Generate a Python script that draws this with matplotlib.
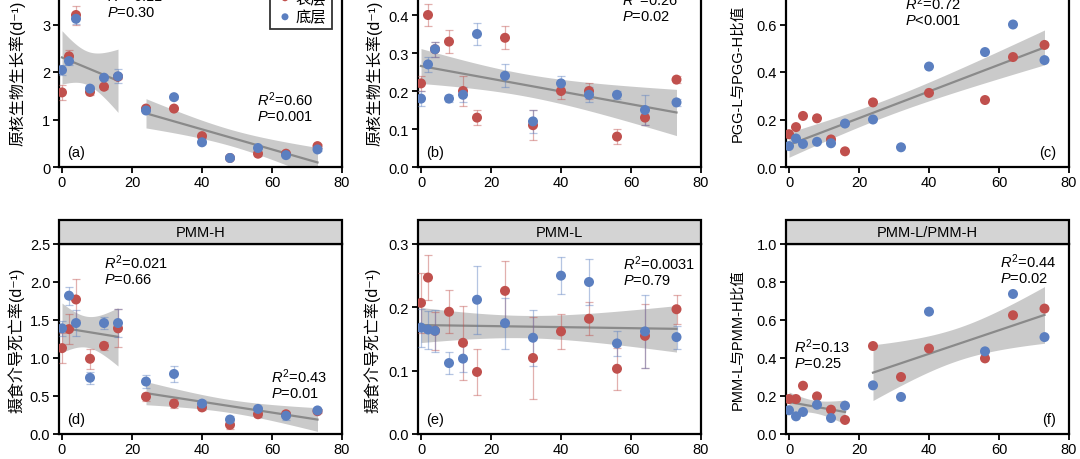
import matplotlib
matplotlib.use("Agg")
import matplotlib.pyplot as plt
import numpy as np
from matplotlib.patches import Rectangle

plt.rcParams['font.family'] = ['Liberation Sans', 'Noto Sans CJK SC', 'DejaVu Sans']
plt.rcParams['mathtext.fontset'] = 'custom'
plt.rcParams['mathtext.rm'] = 'Liberation Sans'
plt.rcParams['mathtext.it'] = 'Liberation Sans:italic'
plt.rcParams['font.size'] = 10

# 采样时间
x = [0, 2, 4, 8, 12, 16, 24, 32, 40, 48, 56, 64, 73]
nan = np.nan

# (a) 原核生物生长率 PGG-H
a_red = [1.57, 2.33, 3.20, 1.58, 1.69, 1.90, 1.23, 1.23, 0.65, 0.19, 0.28, 0.28, 0.44]
a_red_err = [0.15, 0.13, 0.20, 0.07, 0.04, 0.05, 0.04, 0.04, 0.04, 0.03, 0.04, 0.03, 0.04]
a_blue = [2.04, 2.23, 3.12, 1.65, 1.88, 1.91, 1.19, 1.47, 0.52, 0.19, 0.40, 0.25, 0.37]
a_blue_err = [0.10, 0.08, 0.10, 0.05, 0.04, 0.15, 0.04, 0.04, 0.04, 0.03, 0.03, 0.03, 0.03]

# (b) 原核生物生长率 PGG-L
b_red = [0.22, 0.40, 0.31, 0.33, 0.20, 0.13, 0.34, 0.11, 0.20, 0.20, 0.08, 0.13, 0.23]
b_red_err = [0.02, 0.03, 0.02, 0.03, 0.04, 0.02, 0.03, 0.04, 0.02, 0.02, 0.02, 0.02, 0.01]
b_blue = [0.18, 0.27, 0.31, 0.18, 0.19, 0.35, 0.24, 0.12, 0.22, 0.19, 0.19, 0.15, 0.17]
b_blue_err = [0.02, 0.02, 0.02, 0.01, 0.02, 0.03, 0.03, 0.03, 0.02, 0.02, 0.01, 0.04, 0.01]

# (c) PGG-L/PGG-H
c_red = [0.138, 0.168, 0.215, 0.205, 0.116, 0.066, 0.272, nan, 0.312, nan, 0.282, 0.463, 0.514]
c_blue = [0.088, 0.120, 0.097, 0.106, 0.100, 0.183, 0.200, 0.083, 0.423, nan, 0.484, 0.600, 0.450]

# (d) 摄食介导死亡率 PMM-H
d_red = [1.13, 1.38, 1.77, 0.99, 1.16, 1.39, 0.49, 0.40, 0.35, 0.12, 0.26, 0.26, 0.30]
d_red_err = [0.20, 0.20, 0.27, 0.13, 0.05, 0.25, 0.05, 0.06, 0.04, 0.05, 0.03, 0.03, 0.03]
d_blue = [1.39, 1.82, 1.46, 0.74, 1.46, 1.46, 0.69, 0.79, 0.40, 0.19, 0.33, 0.24, 0.31]
d_blue_err = [0.10, 0.12, 0.17, 0.08, 0.08, 0.18, 0.09, 0.10, 0.05, 0.05, 0.03, 0.05, 0.02]

# (e) 摄食介导死亡率 PMM-L
e_red = [0.207, 0.247, 0.163, 0.193, 0.144, 0.098, 0.226, 0.120, 0.162, 0.182, 0.103, 0.155, 0.197]
e_red_err = [0.048, 0.036, 0.030, 0.034, 0.058, 0.037, 0.047, 0.065, 0.027, 0.026, 0.033, 0.050, 0.023]
e_blue = [0.168, 0.165, 0.163, 0.112, 0.119, 0.212, 0.175, 0.152, 0.250, 0.240, 0.143, 0.162, 0.153]
e_blue_err = [0.030, 0.030, 0.033, 0.017, 0.021, 0.054, 0.040, 0.044, 0.029, 0.037, 0.020, 0.058, 0.018]

# (f) PMM-L/PMM-H
f_red = [0.184, 0.184, 0.254, 0.198, 0.128, 0.074, 0.463, 0.300, 0.450, nan, 0.398, 0.625, 0.660]
f_blue = [0.125, 0.093, 0.116, 0.154, 0.084, 0.149, 0.256, 0.195, 0.644, nan, 0.435, 0.737, 0.510]

RED = '#c0504d'
BLUE = '#5b7fc0'
T975 = {8: 2.306, 9: 2.262, 10: 2.228, 11: 2.201, 12: 2.179, 13: 2.160, 14: 2.145,
        18: 2.101, 19: 2.093, 20: 2.086, 21: 2.080, 22: 2.074, 23: 2.069, 24: 2.064}

W, H = 1080, 460
fig = plt.figure(figsize=(W / 100, H / 100), dpi=100)


def make_ax(left_px, bottom_px):
    # 轴宽 283.5px, 高 190px
    return fig.add_axes([left_px / W, 1 - bottom_px / H, 283.5 / W, 190 / H])


def fit_band(ax, xs, ys, lo, hi):
    xs = np.asarray(xs, float)
    ys = np.asarray(ys, float)
    m = (xs >= lo) & (xs <= hi) & ~np.isnan(ys)
    xx, yy = xs[m], ys[m]
    n = len(xx)
    slope, icpt = np.polyfit(xx, yy, 1)
    resid = yy - (slope * xx + icpt)
    s = np.sqrt(np.sum(resid ** 2) / (n - 2))
    sxx = np.sum((xx - xx.mean()) ** 2)
    gx = np.linspace(xx.min(), xx.max(), 60)
    gy = slope * gx + icpt
    se = s * np.sqrt(1 / n + (gx - xx.mean()) ** 2 / sxx)
    t = T975[n - 2]
    ax.fill_between(gx, gy - t * se, gy + t * se, color='#bdbdbd', alpha=0.8, lw=0, zorder=1)
    ax.plot(gx, gy, color='#8a8a8a', lw=1.6, zorder=2)


def panel(ax, red, blue, red_err, blue_err, segs, ylim, yticks, fmt, ylabel, strip,
          lab_x, lab_size):
    xs = np.array(x, float)
    for ys, err, col, lab in [(red, red_err, RED, '表层'), (blue, blue_err, BLUE, '底层')]:
        if err is not None:
            ax.errorbar(xs, ys, yerr=err, fmt='none', ecolor=col, alpha=0.45,
                        elinewidth=0.9, capsize=3, capthick=0.9, zorder=3)
        ax.scatter(xs, ys, s=52, color=col, edgecolors='none', zorder=4, label=lab)
    for lo, hi in segs:
        both_x = np.concatenate([xs, xs])
        both_y = np.concatenate([np.asarray(red, float), np.asarray(blue, float)])
        fit_band(ax, both_x, both_y, lo, hi)
    ax.set_xlim(-1, 80)
    ax.set_ylim(*ylim)
    ax.set_xticks([0, 20, 40, 60, 80])
    ax.set_yticks(yticks)
    ax.set_yticklabels([fmt.format(v) for v in yticks])
    for sp in ['top', 'right', 'left', 'bottom']:
        ax.spines[sp].set_linewidth(1.6)
    ax.tick_params(direction='out', length=4, width=1.3, labelsize=10.5, pad=2)
    ax.set_ylabel(ylabel, fontsize=lab_size)
    ax.yaxis.set_label_coords(lab_x, 0.5)
    ax.add_patch(Rectangle((0, 1), 1, 24 / 190, transform=ax.transAxes, facecolor='#d4d4d4',
                           edgecolor='black', lw=1.6, clip_on=False, zorder=5))
    ax.text(0.5, 1 + 12 / 190, strip, transform=ax.transAxes, ha='center', va='center',
            fontsize=10.5, zorder=6)


def stat(ax, xv, yv, r2, p):
    ax.text(xv, yv, '$R^2$=' + r2 + '\n$P$' + p, ha='left', va='center',
            fontsize=10.5, linespacing=1.05, zorder=6)


lab_ab = '原核生物生长率(d⁻¹)'
lab_de = '摄食介导死亡率(d⁻¹)'

ax_a = make_ax(58.5, 168)
panel(ax_a, a_red, a_blue, a_red_err, a_blue_err, [(0, 16), (24, 73)], (0, 4),
      [0, 1, 2, 3, 4], '{:.0f}', lab_ab, 'PGG-H', -0.115, 11.5)
stat(ax_a, 12.9, 3.47, '0.11', '=0.30')
stat(ax_a, 55.7, 1.28, '0.60', '=0.001')
ax_a.text(0.03, 0.08, '(a)', transform=ax_a.transAxes, fontsize=10.5, va='center')
leg = ax_a.legend(loc='upper right', bbox_to_anchor=(0.99, 1.0), frameon=True, fancybox=False,
                  edgecolor='black', handletextpad=0.1, borderpad=0.35, labelspacing=0.3,
                  fontsize=11, markerscale=0.7, handlelength=1.2)
leg.get_frame().set_linewidth(1.3)

ax_b = make_ax(417.5, 168)
panel(ax_b, b_red, b_blue, b_red_err, b_blue_err, [(0, 73)], (0, 0.5),
      [0, 0.1, 0.2, 0.3, 0.4, 0.5], '{:.1f}', lab_ab, 'PGG-L', -0.122, 11.5)
stat(ax_b, 57.4, 0.423, '0.26', '=0.02')
ax_b.text(0.03, 0.08, '(b)', transform=ax_b.transAxes, fontsize=10.5, va='center')

ax_c = make_ax(785.5, 168)
panel(ax_c, c_red, c_blue, None, None, [(0, 73)], (0, 0.8),
      [0, 0.2, 0.4, 0.6, 0.8], '{:.1f}', 'PGG-L与PGG-H比值', 'PGG-L/PGG-H', -0.146, 10.5)
stat(ax_c, 33.1, 0.66, '0.72', '<0.001')
ax_c.text(0.955, 0.08, '(c)', transform=ax_c.transAxes, fontsize=10.5, va='center', ha='right')

ax_d = make_ax(58.5, 435)
panel(ax_d, d_red, d_blue, d_red_err, d_blue_err, [(0, 16), (24, 73)], (0, 2.5),
      [0, 0.5, 1.0, 1.5, 2.0, 2.5], '{:.1f}', lab_de, 'PMM-H', -0.12, 11.5)
stat(ax_d, 12.0, 2.17, '0.021', '=0.66')
stat(ax_d, 59.7, 0.67, '0.43', '=0.01')
ax_d.text(0.03, 0.08, '(d)', transform=ax_d.transAxes, fontsize=10.5, va='center')

ax_e = make_ax(417.5, 435)
panel(ax_e, e_red, e_blue, e_red_err, e_blue_err, [(0, 73)], (0, 0.3),
      [0, 0.1, 0.2, 0.3], '{:.1f}', lab_de, 'PMM-L', -0.129, 11.5)
stat(ax_e, 57.7, 0.259, '0.0031', '=0.79')
ax_e.text(0.03, 0.08, '(e)', transform=ax_e.transAxes, fontsize=10.5, va='center')

ax_f = make_ax(785.5, 435)
panel(ax_f, f_red, f_blue, None, None, [(0, 16), (24, 73)], (0, 0.975),
      [0, 0.2, 0.4, 0.6, 0.8, 1.0], '{:.1f}', 'PMM-L与PMM-H比值', 'PMM-L/PMM-H', -0.146, 10.5)
stat(ax_f, 60.3, 0.874, '0.44', '=0.02')
stat(ax_f, 1.4, 0.426, '0.13', '=0.25')
ax_f.text(0.955, 0.08, '(f)', transform=ax_f.transAxes, fontsize=10.5, va='center', ha='right')

fig.savefig('out.png', dpi=100)
